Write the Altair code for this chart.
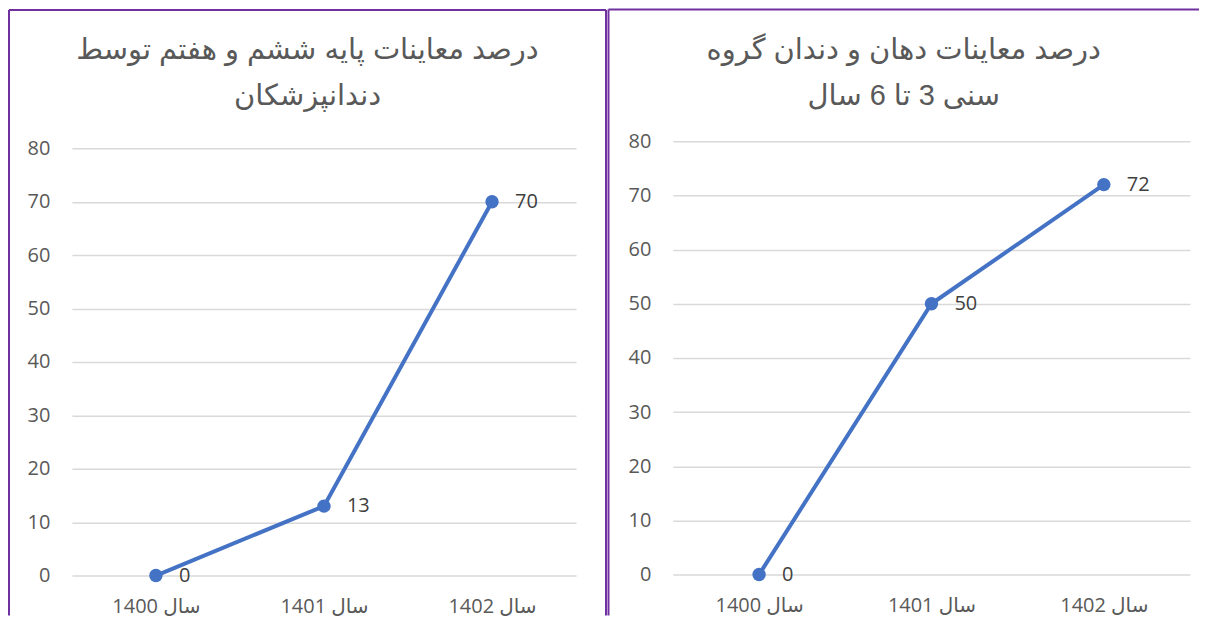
import altair as alt
import pandas as pd

# ---- data ----
years = ["سال 1400", "سال 1401", "سال 1402"]
left_values = [0, 13, 70]
right_values = [0, 50, 72]
y_ticks = [0, 10, 20, 30, 40, 50, 60, 70, 80]
left_title = ["درصد معاینات پایه ششم و  هفتم توسط", "دندانپزشکان"]
right_title = ["درصد معاینات  دهان و دندان گروه", "سنی 3 تا 6 سال"]

BLUE = "#4472C4"
PURPLE = "#7030A0"
GRID = "#D9D9D9"
AXIS_LABEL = "#595959"
DATA_LABEL = "#404040"
NUM_FONT = "Open Sans, DejaVu Sans"
TITLE_FONT = "Liberation Sans, DejaVu Sans"

dummy = pd.DataFrame({"k": [0]})


def border_rules(segments):
    layers = []
    for seg in segments:
        enc = {k: alt.value(v) for k, v in seg.items()}
        layers.append(
            alt.Chart(dummy).mark_rule(color=PURPLE, strokeWidth=2).encode(**enc)
        )
    return layers


def panel(values, title, width, height, ymax, borders, title_offset):
    df = pd.DataFrame({"year": years, "value": values})
    x = alt.X(
        "year:N",
        sort=years,
        scale=alt.Scale(type="point", padding=0.5),
        axis=alt.Axis(
            title=None,
            labelAngle=0,
            domain=False,
            ticks=False,
            tickSize=0,
            grid=False,
            labelPadding=21,
            labelFont=NUM_FONT,
            labelFontSize=20,
            labelColor=AXIS_LABEL,
        ),
    )
    y = alt.Y(
        "value:Q",
        scale=alt.Scale(domain=[0, ymax], nice=False, zero=True),
        axis=alt.Axis(
            title=None,
            values=y_ticks,
            domain=False,
            ticks=False,
            tickSize=0,
            grid=True,
            gridColor=GRID,
            gridWidth=1.5,
            labelPadding=22,
            labelFont=NUM_FONT,
            labelFontSize=20,
            labelColor=AXIS_LABEL,
        ),
    )
    base = alt.Chart(df)
    line = base.mark_line(color=BLUE, strokeWidth=4).encode(x=x, y=y)
    pts = base.mark_point(filled=True, color=BLUE, size=180, opacity=1).encode(x=x, y=y)
    labels = base.mark_text(
        align="left", baseline="middle", dx=23, fontSize=20,
        font=NUM_FONT, color=DATA_LABEL,
    ).encode(x=x, y=y, text="value:Q")
    layers = border_rules(borders) + [line, pts, labels]
    return alt.layer(*layers).properties(
        width=width,
        height=height,
        title=alt.TitleParams(
            text=title,
            anchor="middle",
            frame="bounds",
            baseline="top",
            offset=title_offset,
            font=TITLE_FONT,
            fontSize=29,
            fontWeight="normal",
            color=AXIS_LABEL,
            lineHeight=46,
        ),
    )


left = panel(
    left_values, left_title, 505, 435, 81.31,
    [
        {"x": -63, "y": -131.5, "y2": 475},
        {"x": -63, "x2": 535, "y": -131.5},
        {"x": 535, "y": -131.5, "y2": 475},
    ],
    -102.5,
)

right = panel(
    right_values, right_title, 518, 434, 80,
    [
        {"x": -64.5, "y": -132, "y2": 475},
        {"x": -64.5, "x2": 527, "y": -132},
    ],
    -103,
)

chart = (
    alt.hconcat(left, right, spacing=0)
    .properties(padding={"left": 0, "top": 0, "right": 0, "bottom": 0})
    .configure_view(strokeWidth=0)
)

chart.save("out.html", embed_options={"renderer": "svg", "actions": False})
